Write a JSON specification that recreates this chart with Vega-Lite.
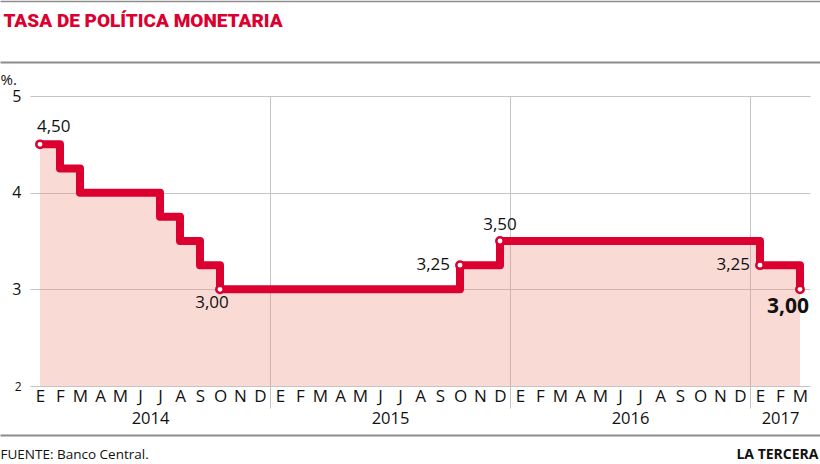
{
  "$schema": "https://vega.github.io/schema/vega-lite/v6.json",
  "width": 780,
  "height": 290,
  "autosize": {"type": "none"},
  "padding": {"left": 30, "top": 96, "right": 10, "bottom": 78},
  "background": "white",
  "config": {
    "view": {"stroke": null},
    "axis": {"labelFont": "Open Sans", "labelColor": "#111111", "titleFont": "Open Sans", "titleColor": "#111111", "titleFontWeight": "normal"}
  },
  "datasets": {
    "serie": [
      {"t": 0, "r": 4.5}, {"t": 1, "r": 4.25}, {"t": 2, "r": 4.0}, {"t": 3, "r": 4.0}, {"t": 4, "r": 4.0}, {"t": 5, "r": 4.0},
      {"t": 6, "r": 3.75}, {"t": 7, "r": 3.5}, {"t": 8, "r": 3.25}, {"t": 9, "r": 3.0}, {"t": 10, "r": 3.0}, {"t": 11, "r": 3.0},
      {"t": 12, "r": 3.0}, {"t": 13, "r": 3.0}, {"t": 14, "r": 3.0}, {"t": 15, "r": 3.0}, {"t": 16, "r": 3.0}, {"t": 17, "r": 3.0},
      {"t": 18, "r": 3.0}, {"t": 19, "r": 3.0}, {"t": 20, "r": 3.0}, {"t": 21, "r": 3.25}, {"t": 22, "r": 3.25}, {"t": 23, "r": 3.5},
      {"t": 24, "r": 3.5}, {"t": 25, "r": 3.5}, {"t": 26, "r": 3.5}, {"t": 27, "r": 3.5}, {"t": 28, "r": 3.5}, {"t": 29, "r": 3.5},
      {"t": 30, "r": 3.5}, {"t": 31, "r": 3.5}, {"t": 32, "r": 3.5}, {"t": 33, "r": 3.5}, {"t": 34, "r": 3.5}, {"t": 35, "r": 3.5},
      {"t": 36, "r": 3.25}, {"t": 37, "r": 3.25}, {"t": 38, "r": 3.0}
    ],
    "hitos": [
      {"t": 0, "r": 4.5}, {"t": 9, "r": 3.0}, {"t": 21, "r": 3.25}, {"t": 23, "r": 3.5}, {"t": 36, "r": 3.25}, {"t": 38, "r": 3.0}
    ]
  },
  "layer": [
    {
      "encoding": {
        "y": {
          "field": "r", "type": "quantitative",
          "scale": {"domain": [2, 5], "nice": false, "zero": false},
          "axis": {
            "values": [2, 3, 4, 5], "grid": true, "gridColor": "#c4c4c4", "gridWidth": 1,
            "ticks": false, "domain": false, "labelPadding": 9,
            "labelFontSize": {"condition": {"test": "datum.value == 2", "value": 12}, "value": 16},
            "title": "%.", "titleAngle": 0, "titleAlign": "left", "titleBaseline": "alphabetic",
            "titleX": -30, "titleY": -12, "titleFontSize": 15
          }
        }
      },
      "layer": [
        {
          "data": {"name": "serie"},
          "mark": {"type": "area", "interpolate": "step-after", "color": "#f08c7c", "opacity": 0.32},
          "encoding": {
            "x": {
              "field": "t", "type": "quantitative",
              "scale": {"domain": [-0.5, 38.5], "nice": false, "zero": false},
              "axis": {
                "orient": "bottom", "values": [0,1,2,3,4,5,6,7,8,9,10,11,12,13,14,15,16,17,18,19,20,21,22,23,24,25,26,27,28,29,30,31,32,33,34,35,36,37,38],
                "labelExpr": "['E','F','M','A','M','J','J','A','S','O','N','D'][datum.value % 12]",
                "labelFontSize": 17, "labelPadding": 2, "labelOverlap": false, "labelFlush": false, "labelBound": false,
                "ticks": false, "domain": false, "grid": false, "title": null
              }
            },
            "y2": {"datum": 2}
          }
        },
        {
          "data": {"name": "serie"},
          "mark": {"type": "line", "interpolate": "step-after", "color": "#dc0030", "strokeWidth": 8, "strokeJoin": "round", "strokeCap": "butt"},
          "encoding": {
            "x": {
              "field": "t", "type": "quantitative",
              "scale": {"domain": [-0.5, 38.5], "nice": false, "zero": false},
              "axis": {
                "orient": "bottom", "values": [5.5, 17.5, 29.5, 37],
                "labelExpr": "datum.value < 12 ? '2014' : datum.value < 24 ? '2015' : datum.value < 36 ? '2016' : '2017'",
                "labelFontSize": 16.5, "labelPadding": 24, "labelOverlap": false, "labelFlush": false, "labelBound": false,
                "ticks": false, "domain": false, "grid": false, "title": null
              }
            }
          }
        },
        {
          "data": {"name": "hitos"},
          "mark": {"type": "point", "shape": "circle", "filled": true, "fill": "white", "stroke": "#dc0030", "strokeWidth": 2.5, "size": 55, "opacity": 1},
          "encoding": {
            "x": {
              "field": "t", "type": "quantitative",
              "scale": {"domain": [-0.5, 38.5], "nice": false, "zero": false},
              "axis": {
                "orient": "bottom", "values": [11.5, 23.5, 35.5],
                "labels": false, "ticks": true, "tickSize": 22, "tickColor": "#c4c4c4", "tickWidth": 1,
                "domain": false, "grid": true, "gridColor": "#c4c4c4", "gridWidth": 1, "title": null
              }
            }
          }
        },
        {
          "data": {"values": [{"t": 0, "r": 4.5, "txt": "4,50"}]},
          "mark": {"type": "text", "align": "left", "baseline": "middle", "dx": -3, "dy": -17, "font": "Open Sans", "fontSize": 17, "color": "#111111"},
          "encoding": {
            "x": {"field": "t", "type": "quantitative", "scale": {"domain": [-0.5, 38.5], "nice": false, "zero": false}, "axis": null},
            "text": {"field": "txt"}
          }
        },
        {
          "data": {"values": [{"t": 9, "r": 3.0, "txt": "3,00"}]},
          "mark": {"type": "text", "align": "center", "baseline": "middle", "dx": -8, "dy": 14, "font": "Open Sans", "fontSize": 17, "color": "#111111"},
          "encoding": {
            "x": {"field": "t", "type": "quantitative", "scale": {"domain": [-0.5, 38.5], "nice": false, "zero": false}, "axis": null},
            "text": {"field": "txt"}
          }
        },
        {
          "data": {"values": [{"t": 21, "r": 3.25, "txt": "3,25"}, {"t": 36, "r": 3.25, "txt": "3,25"}]},
          "mark": {"type": "text", "align": "right", "baseline": "middle", "dx": -10, "dy": 0, "font": "Open Sans", "fontSize": 17, "color": "#111111"},
          "encoding": {
            "x": {"field": "t", "type": "quantitative", "scale": {"domain": [-0.5, 38.5], "nice": false, "zero": false}, "axis": null},
            "text": {"field": "txt"}
          }
        },
        {
          "data": {"values": [{"t": 23, "r": 3.5, "txt": "3,50"}]},
          "mark": {"type": "text", "align": "center", "baseline": "middle", "dx": 0, "dy": -16, "font": "Open Sans", "fontSize": 17, "color": "#111111"},
          "encoding": {
            "x": {"field": "t", "type": "quantitative", "scale": {"domain": [-0.5, 38.5], "nice": false, "zero": false}, "axis": null},
            "text": {"field": "txt"}
          }
        },
        {
          "data": {"values": [{"t": 38, "r": 3.0, "txt": "3,00"}]},
          "mark": {"type": "text", "align": "center", "baseline": "middle", "dx": -12, "dy": 18, "font": "Open Sans", "fontSize": 21, "fontWeight": "bold", "color": "#111111"},
          "encoding": {
            "x": {"field": "t", "type": "quantitative", "scale": {"domain": [-0.5, 38.5], "nice": false, "zero": false}, "axis": null},
            "text": {"field": "txt"}
          }
        }
      ],
      "resolve": {"axis": {"x": "independent"}}
    },
    {
      "data": {"values": [{"f": 0}]},
      "mark": {"type": "rule", "opacity": 0},
      "encoding": {
        "x": {
          "field": "f", "type": "quantitative",
          "scale": {"domain": [0, 1], "range": [-30, 790]},
          "axis": {
            "orient": "top", "offset": 95, "domain": true, "domainColor": "#8c8c8c", "domainWidth": 1.5,
            "ticks": false, "labels": false, "grid": false,
            "title": "LA TERCERA", "titleX": 788, "titleY": 457, "titleAlign": "right", "titleBaseline": "alphabetic",
            "titleFont": "Open Sans", "titleFontSize": 14, "titleFontWeight": "bold", "titleColor": "#111111", "titleAngle": 0
          }
        }
      }
    },
    {
      "data": {"values": [{"f": 0}]},
      "mark": {"type": "rule", "opacity": 0},
      "encoding": {
        "x": {
          "field": "f", "type": "quantitative",
          "scale": {"domain": [0, 1], "range": [-30, 790]},
          "axis": {
            "orient": "top", "offset": 34, "domain": true, "domainColor": "#8c8c8c", "domainWidth": 2,
            "ticks": false, "labels": false, "grid": false,
            "title": "TASA DE POLÍTICA MONETARIA", "titleX": -27, "titleY": -36, "titleAlign": "left", "titleBaseline": "alphabetic",
            "titleFont": "Roboto", "titleFontSize": 19, "titleFontWeight": 900, "titleColor": "#dc0030", "titleAngle": 0
          }
        }
      }
    },
    {
      "data": {"values": [{"f": 0}]},
      "mark": {"type": "rule", "opacity": 0},
      "encoding": {
        "x": {
          "field": "f", "type": "quantitative",
          "scale": {"domain": [0, 1], "range": [-30, 790]},
          "axis": {
            "orient": "bottom", "offset": 49, "domain": true, "domainColor": "#8c8c8c", "domainWidth": 2,
            "ticks": false, "labels": false, "grid": false,
            "title": "FUENTE: Banco Central.", "titleX": -30, "titleY": 23, "titleAlign": "left", "titleBaseline": "alphabetic",
            "titleFont": "Open Sans", "titleFontSize": 13.5, "titleColor": "#111111", "titleAngle": 0
          }
        }
      }
    }
  ],
  "resolve": {"scale": {"x": "independent"}, "axis": {"x": "independent"}}
}
